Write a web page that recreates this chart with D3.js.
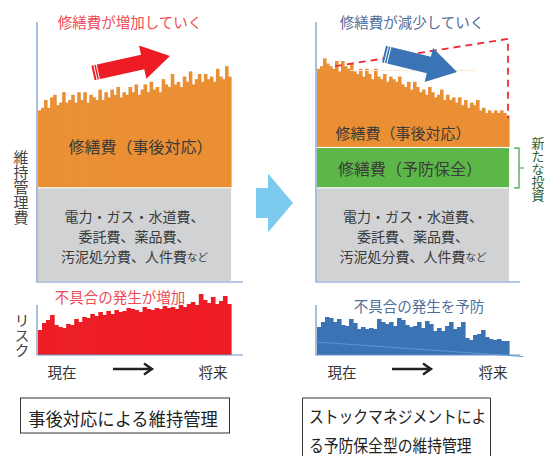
<!DOCTYPE html>
<html>
<head>
<meta charset="utf-8">
<script src="https://cdn.jsdelivr.net/npm/d3@7"></script>
<style>
  body { margin: 0; background: #fff; }
  svg { display: block; font-family: "Noto Sans CJK JP", sans-serif; }
</style>
</head>
<body>
<svg id="chart" width="551" height="456"></svg>
<script>
// 修繕費（事後対応）: 左は増加、右は減少
const costUp = [66,67,70,67,71,72,68,69,73,69, 70,72,69,73,70,73,69,72,71,70,
  74,70,73,71,74,72,75,71,73,72, 75,73,76,72,74,76,73,77,74,75,
  73,78,76,75,80,76,77,75,79,77, 81,76,78,80,77,80,78,79,77,82, 79,78,83,79];
const costDown = [82,83,86,84,83,82,85,81,85,83, 82,84,81,80,82,79,82,80,78,82,
  79,78,80,77,79,78,77,79,76,75, 77,74,77,75,73,74,72,75,73,71,
  72,74,70,72,70,71,69,71,68,70, 67,69,68,70,66,67,65,66,65,66, 65,66,65,64];
// リスク（不具合の発生）
const riskUp = [25,32,35,40,30,28,27,31,30,36, 33,38,37,41,39,43,40,44,41,45,
  43,44,47,46,45,43,48,46,45,47, 46,49,47,48,46,50,48,51,53,50, 61,55,52,58,51,54,59,51];
const riskDown = [28,33,38,37,33,36,30,29,36,32, 26,28,26,27,26,36,33,31,33,29,
  37,35,30,28,29,33,27,34,31,24, 27,24,29,33,26,28,33,17,15,20, 21,25,18,16,15,16,14,14];
// 固定的な費用と予防保全の費用（同じ単位）
const otherCost = 36;
const preventCost = 15.5;

const otherLines = ['電力・ガス・水道費、', '委託費、薬品費、', '汚泥処分費、人件費'];
const titles = ['修繕費が増加していく', '修繕費が減少していく'];
const riskTitles = ['不具合の発生が増加', '不具合の発生を予防'];
const boxLabels = [['事後対応による維持管理'], ['ストックマネジメントによ', 'る予防保全型の維持管理']];

const C = {
  orange: '#ea8f33', gray: '#d1d2d4', green: '#5bb848', red: '#ee1c25',
  blue: '#3b74b4', axis: '#6f93c6', text: '#3a3a3a', light: '#7ccbee'
};

const svg = d3.select('#chart');
const yTop = d3.scaleLinear().domain([0, 100]).range([282, 22]);
const yRisk = d3.scaleLinear().domain([0, 62]).range([355, 293]);

function stack(g, x, y, lines, size, color) {
  lines.forEach((t, i) => {
    g.append('text').attr('x', x).attr('y', y + i * 20)
      .attr('text-anchor', 'middle').attr('dominant-baseline', 'central')
      .attr('font-size', size).attr('fill', color).text(t);
  });
}

// 縦書き（一つのtext要素）
function vtext(x, yMid, str, size, color) {
  svg.append('text').attr('x', x).attr('y', yMid)
    .style('writing-mode', 'vertical-rl')
    .attr('text-anchor', 'middle')
    .attr('font-size', size).attr('fill', color).text(str);
}

function arrowPts(x0, y0, x1, y1, sw, hw, hl) {
  const L = Math.hypot(x1 - x0, y1 - y0), ux = (x1 - x0) / L, uy = (y1 - y0) / L;
  const nx = -uy, ny = ux, bx = x1 - ux * hl, by = y1 - uy * hl;
  return [[x0 + nx * sw, y0 + ny * sw], [bx + nx * sw, by + ny * sw], [bx + nx * hw, by + ny * hw],
    [x1, y1], [bx - nx * hw, by - ny * hw], [bx - nx * sw, by - ny * sw], [x0 - nx * sw, y0 - ny * sw]];
}

function fatArrow(x0, y0, x1, y1, sw, hw, hl, color, stripes) {
  svg.append('polygon').attr('points', arrowPts(x0, y0, x1, y1, sw, hw, hl).join(' ')).attr('fill', color);
  if (!stripes) return;
  const L = Math.hypot(x1 - x0, y1 - y0), ux = (x1 - x0) / L, uy = (y1 - y0) / L;
  [2.5, 5].forEach(d => {
    const cx = x0 + ux * d, cy = y0 + uy * d;
    svg.append('line')
      .attr('x1', cx + uy * (sw + 1)).attr('y1', cy - ux * (sw + 1))
      .attr('x2', cx - uy * (sw + 1)).attr('y2', cy + ux * (sw + 1))
      .attr('stroke', '#fff').attr('stroke-width', 1);
  });
}

function drawPanel(opt) {
  const g = svg.append('g');
  const x = d3.scaleBand().domain(d3.range(opt.cost.length)).range([opt.x0, opt.x1]);
  const xr = d3.scaleBand().domain(d3.range(opt.risk.length)).range([opt.x0, opt.x1]);
  const base = opt.prevent ? otherCost + preventCost : otherCost;

  // 電力・ガス等
  g.append('rect').attr('x', opt.x0).attr('width', opt.x1 - opt.x0)
    .attr('y', yTop(otherCost)).attr('height', yTop(0) - yTop(otherCost) - 1).attr('fill', C.gray);
  if (opt.prevent) {
    g.append('rect').attr('x', opt.x0).attr('width', opt.x1 - opt.x0)
      .attr('y', yTop(base)).attr('height', yTop(otherCost) - yTop(base) - 1.2).attr('fill', C.green);
  }
  // 修繕費（事後対応）のバー
  g.append('g').selectAll('rect').data(opt.cost).join('rect')
    .attr('x', (d, i) => x(i)).attr('width', x.bandwidth() + 0.6)
    .attr('y', d => yTop(d)).attr('height', d => yTop(base) - yTop(d) - 1.2)
    .attr('fill', C.orange);

  // リスクのバー
  g.append('g').selectAll('rect').data(opt.risk).join('rect')
    .attr('x', (d, i) => xr(i)).attr('width', xr.bandwidth() + 0.6)
    .attr('y', d => yRisk(d)).attr('height', d => yRisk(0) - yRisk(d))
    .attr('fill', opt.riskColor);

  // 軸線
  const ax = opt.x0 - 1;
  g.append('path').attr('fill', 'none').attr('stroke', C.axis).attr('stroke-width', 1.2)
    .attr('d', `M${ax},${yTop(100)}V${yTop(0)}H${opt.x1 + opt.ext}`);
  g.append('path').attr('fill', 'none').attr('stroke', C.axis).attr('stroke-width', 1.2)
    .attr('d', `M${ax},${yRisk(50)}V${yRisk(0)}H${opt.x1 + opt.ext}`);

  // 区分ラベル
  const mid = (opt.x0 + opt.x1) / 2;
  stack(g, mid, 216, otherLines, 14, C.text);
  const last = g.selectAll('text').filter((d, i) => i === 2);
  last.append('tspan').attr('font-size', 10.5).text('など');
  stack(g, mid + opt.orangeDx, opt.orangeY, ['修繕費（事後対応）'], opt.orangeSize, C.text);
  if (opt.prevent) stack(g, mid - 3, 168, ['修繕費（予防保全）'], 16, C.text);

  // 見出し
  stack(g, opt.titleX, 21, [opt.title], 14.5, opt.titleColor);
  stack(g, opt.riskTitleX, opt.riskTitleY, [opt.riskTitle], 14.5, opt.titleColor);

  // 現在 → 将来
  stack(g, opt.nowX, 371, ['現在'], 14.5, '#333');
  stack(g, opt.futX, 371, ['将来'], 14.5, '#333');
  const a0 = opt.arrX, a1 = opt.arrX + 39, ay = 369;
  g.append('path').attr('fill', 'none').attr('stroke', '#222').attr('stroke-width', 2.4)
    .attr('d', `M${a0},${ay}H${a1 - 1}M${a1 - 8},${ay - 5.5}L${a1},${ay}L${a1 - 8},${ay + 5.5}`);

  // 下の枠
  const b = g.append('g');
  if (opt.boxClosed) {
    b.append('rect').attr('x', opt.bx0).attr('y', 398).attr('width', opt.bx1 - opt.bx0).attr('height', 35)
      .attr('fill', 'none').attr('stroke', '#333').attr('stroke-width', 1);
  } else {
    b.append('path').attr('fill', 'none').attr('stroke', '#333').attr('stroke-width', 1)
      .attr('d', `M${opt.bx0},457V398H${opt.bx1}V457`);
  }
  opt.box.forEach((t, i) => {
    b.append('text')
      .attr('transform', `translate(${opt.boxTextX},${opt.boxTextY + i * 29}) scale(${opt.boxSqueeze},1)`)
      .attr('text-anchor', opt.boxAnchor).attr('dominant-baseline', 'central')
      .attr('font-size', opt.boxSize).attr('fill', '#222').text(t);
  });
  return { x, xr };
}

const L = drawPanel({
  x0: 38, x1: 231, ext: 12, cost: costUp, risk: riskUp, riskColor: C.red, prevent: false,
  orangeDx: 6, orangeY: 146, orangeSize: 16,
  title: titles[0], titleX: 130, titleColor: '#ef4a55',
  riskTitle: riskTitles[0], riskTitleX: 120, riskTitleY: 296,
  nowX: 62, futX: 213, arrX: 113,
  boxClosed: true, bx0: 20.5, bx1: 229.5, box: boxLabels[0], boxTextX: 123, boxTextY: 418,
  boxAnchor: 'middle', boxSize: 18, boxSqueeze: 0.96
});

const R = drawPanel({
  x0: 317, x1: 509, ext: 11, cost: costDown, risk: riskDown, riskColor: C.blue, prevent: true,
  orangeDx: -10, orangeY: 132, orangeSize: 15,
  title: titles[1], titleX: 412, titleColor: '#4f6e99',
  riskTitle: riskTitles[1], riskTitleX: 419, riskTitleY: 305,
  nowX: 342, futX: 493, arrX: 392,
  boxClosed: false, bx0: 302.5, bx1: 490.5, box: boxLabels[1], boxTextX: 309, boxTextY: 416,
  boxAnchor: 'start', boxSize: 17, boxSqueeze: 0.87
});

// 右側のリスク傾向線
svg.append('line').attr('x1', 316).attr('y1', yRisk(13)).attr('x2', 523).attr('y2', yRisk(-1.5))
  .attr('stroke', '#5e95d3').attr('stroke-width', 1);

// 右側の薄い横線と赤い破線
svg.append('line').attr('x1', 350).attr('x2', 475).attr('y1', 70.5).attr('y2', 70.5)
  .attr('stroke', '#fbe9d6').attr('stroke-width', 1);
svg.append('path').attr('fill', 'none').attr('stroke', '#ee2a36').attr('stroke-width', 1.8)
  .attr('stroke-dasharray', '7,5')
  .attr('d', `M${R.x(6)},${yTop(83)}L${R.x(63) + 2},${yTop(93.5)}V${yTop(63)}`);

// 増加・減少の矢印
fatArrow(93, 73, 170, 56, 7.5, 17, 28, C.red, true);
fatArrow(384, 54, 457, 72, 8.5, 17.5, 29, C.blue, true);

// 中央の矢印
fatArrow(256, 203, 293, 203, 15, 29.5, 25, C.light, false);

// 縦書きラベル
vtext(21, 187, '維持管理費', 15, '#444');
vtext(22, 335, 'リスク', 15, '#444');
vtext(538, 169, '新たな投資', 13, '#2f5f35');

// 新たな投資の括弧
const bTop = yTop(otherCost + preventCost), bBot = yTop(otherCost) - 0.5;
svg.append('path').attr('fill', 'none').attr('stroke', '#3c9a3c').attr('stroke-width', 1.2)
  .attr('d', `M514,${bTop}H519V${bBot}H514M519,${(bTop + bBot) / 2}H524`);
</script>
</body>
</html>
